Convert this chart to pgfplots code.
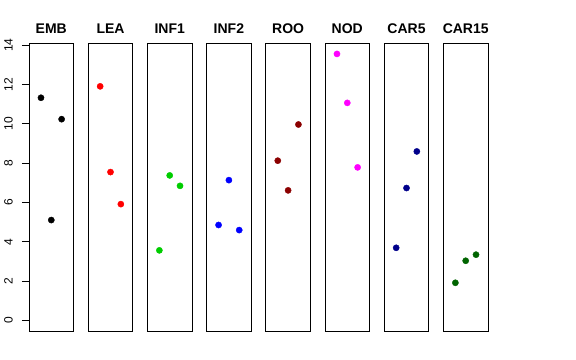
\documentclass[border=0pt]{standalone}
\usepackage{pgfplots}
\pgfplotsset{compat=1.18}
\usepackage{fontspec}
\setmainfont{Liberation Sans}
\definecolor{rgreen}{HTML}{00CD00}
\definecolor{rdarkred}{HTML}{8B0000}
\definecolor{rmagenta}{HTML}{FF00FF}
\definecolor{rdarkblue}{HTML}{00008B}
\definecolor{rdarkgreen}{HTML}{006400}
\pgfplotsset{
  every axis title/.style={at={(0.5,1)}, anchor=base, yshift=9.5bp, inner sep=0pt,
      font=\fontsize{14bp}{16bp}\selectfont\bfseries},
  panel/.style={
    scale only axis, width=44.6bp, height=287.7bp,
    xmin=-0.16, xmax=4.16, ymin=-0.542, ymax=14.09,
    xtick=\empty, ytick=\empty,
    axis line style={line width=0.8bp, black},
    anchor=south west, clip=false,
    every axis plot/.append style={only marks, mark=*, mark size=3.1bp},
  },
  pt/.style={mark options={draw=#1, fill=#1}, color=#1},
}
\begin{document}
\begin{tikzpicture}
\begin{axis}[panel, at={(29bp,29bp)}, title={EMB},
  ytick={0,2,...,14}, ytick pos=left, tick align=outside,
  major tick length=7bp, tick style={line width=0.8bp, black},
  /pgf/number format/assume math mode=true,
  yticklabel style={xshift=-9.5bp, rotate=90, anchor=base, inner sep=0pt,
    font=\fontsize{12bp}{14bp}\selectfont}]
\addplot[pt=black] coordinates {(1,11.32) (2,5.10) (3,10.23)};
\end{axis}
\begin{axis}[panel, at={(88.2bp,29bp)}, title={LEA}]
\addplot[pt=red] coordinates {(1,11.90) (2,7.54) (3,5.91)};
\end{axis}
\begin{axis}[panel, at={(147.4bp,29bp)}, title={INF1}]
\addplot[pt=rgreen] coordinates {(1,3.56) (2,7.37) (3,6.84)};
\end{axis}
\begin{axis}[panel, at={(206.6bp,29bp)}, title={INF2}]
\addplot[pt=blue] coordinates {(1,4.85) (2,7.13) (3,4.59)};
\end{axis}
\begin{axis}[panel, at={(265.8bp,29bp)}, title={ROO}]
\addplot[pt=rdarkred] coordinates {(1,8.12) (2,6.61) (3,9.96)};
\end{axis}
\begin{axis}[panel, at={(325bp,29bp)}, title={NOD}]
\addplot[pt=rmagenta] coordinates {(1,13.55) (2,11.06) (3,7.78)};
\end{axis}
\begin{axis}[panel, at={(384.2bp,29bp)}, title={CAR5}]
\addplot[pt=rdarkblue] coordinates {(1,3.69) (2,6.73) (3,8.59)};
\end{axis}
\begin{axis}[panel, at={(443.4bp,29bp)}, title={CAR15}]
\addplot[pt=rdarkgreen] coordinates {(1,1.91) (2,3.03) (3,3.34)};
\end{axis}
\pgfresetboundingbox
\useasboundingbox (0,0) rectangle (576bp,360bp);
\end{tikzpicture}
\end{document}
